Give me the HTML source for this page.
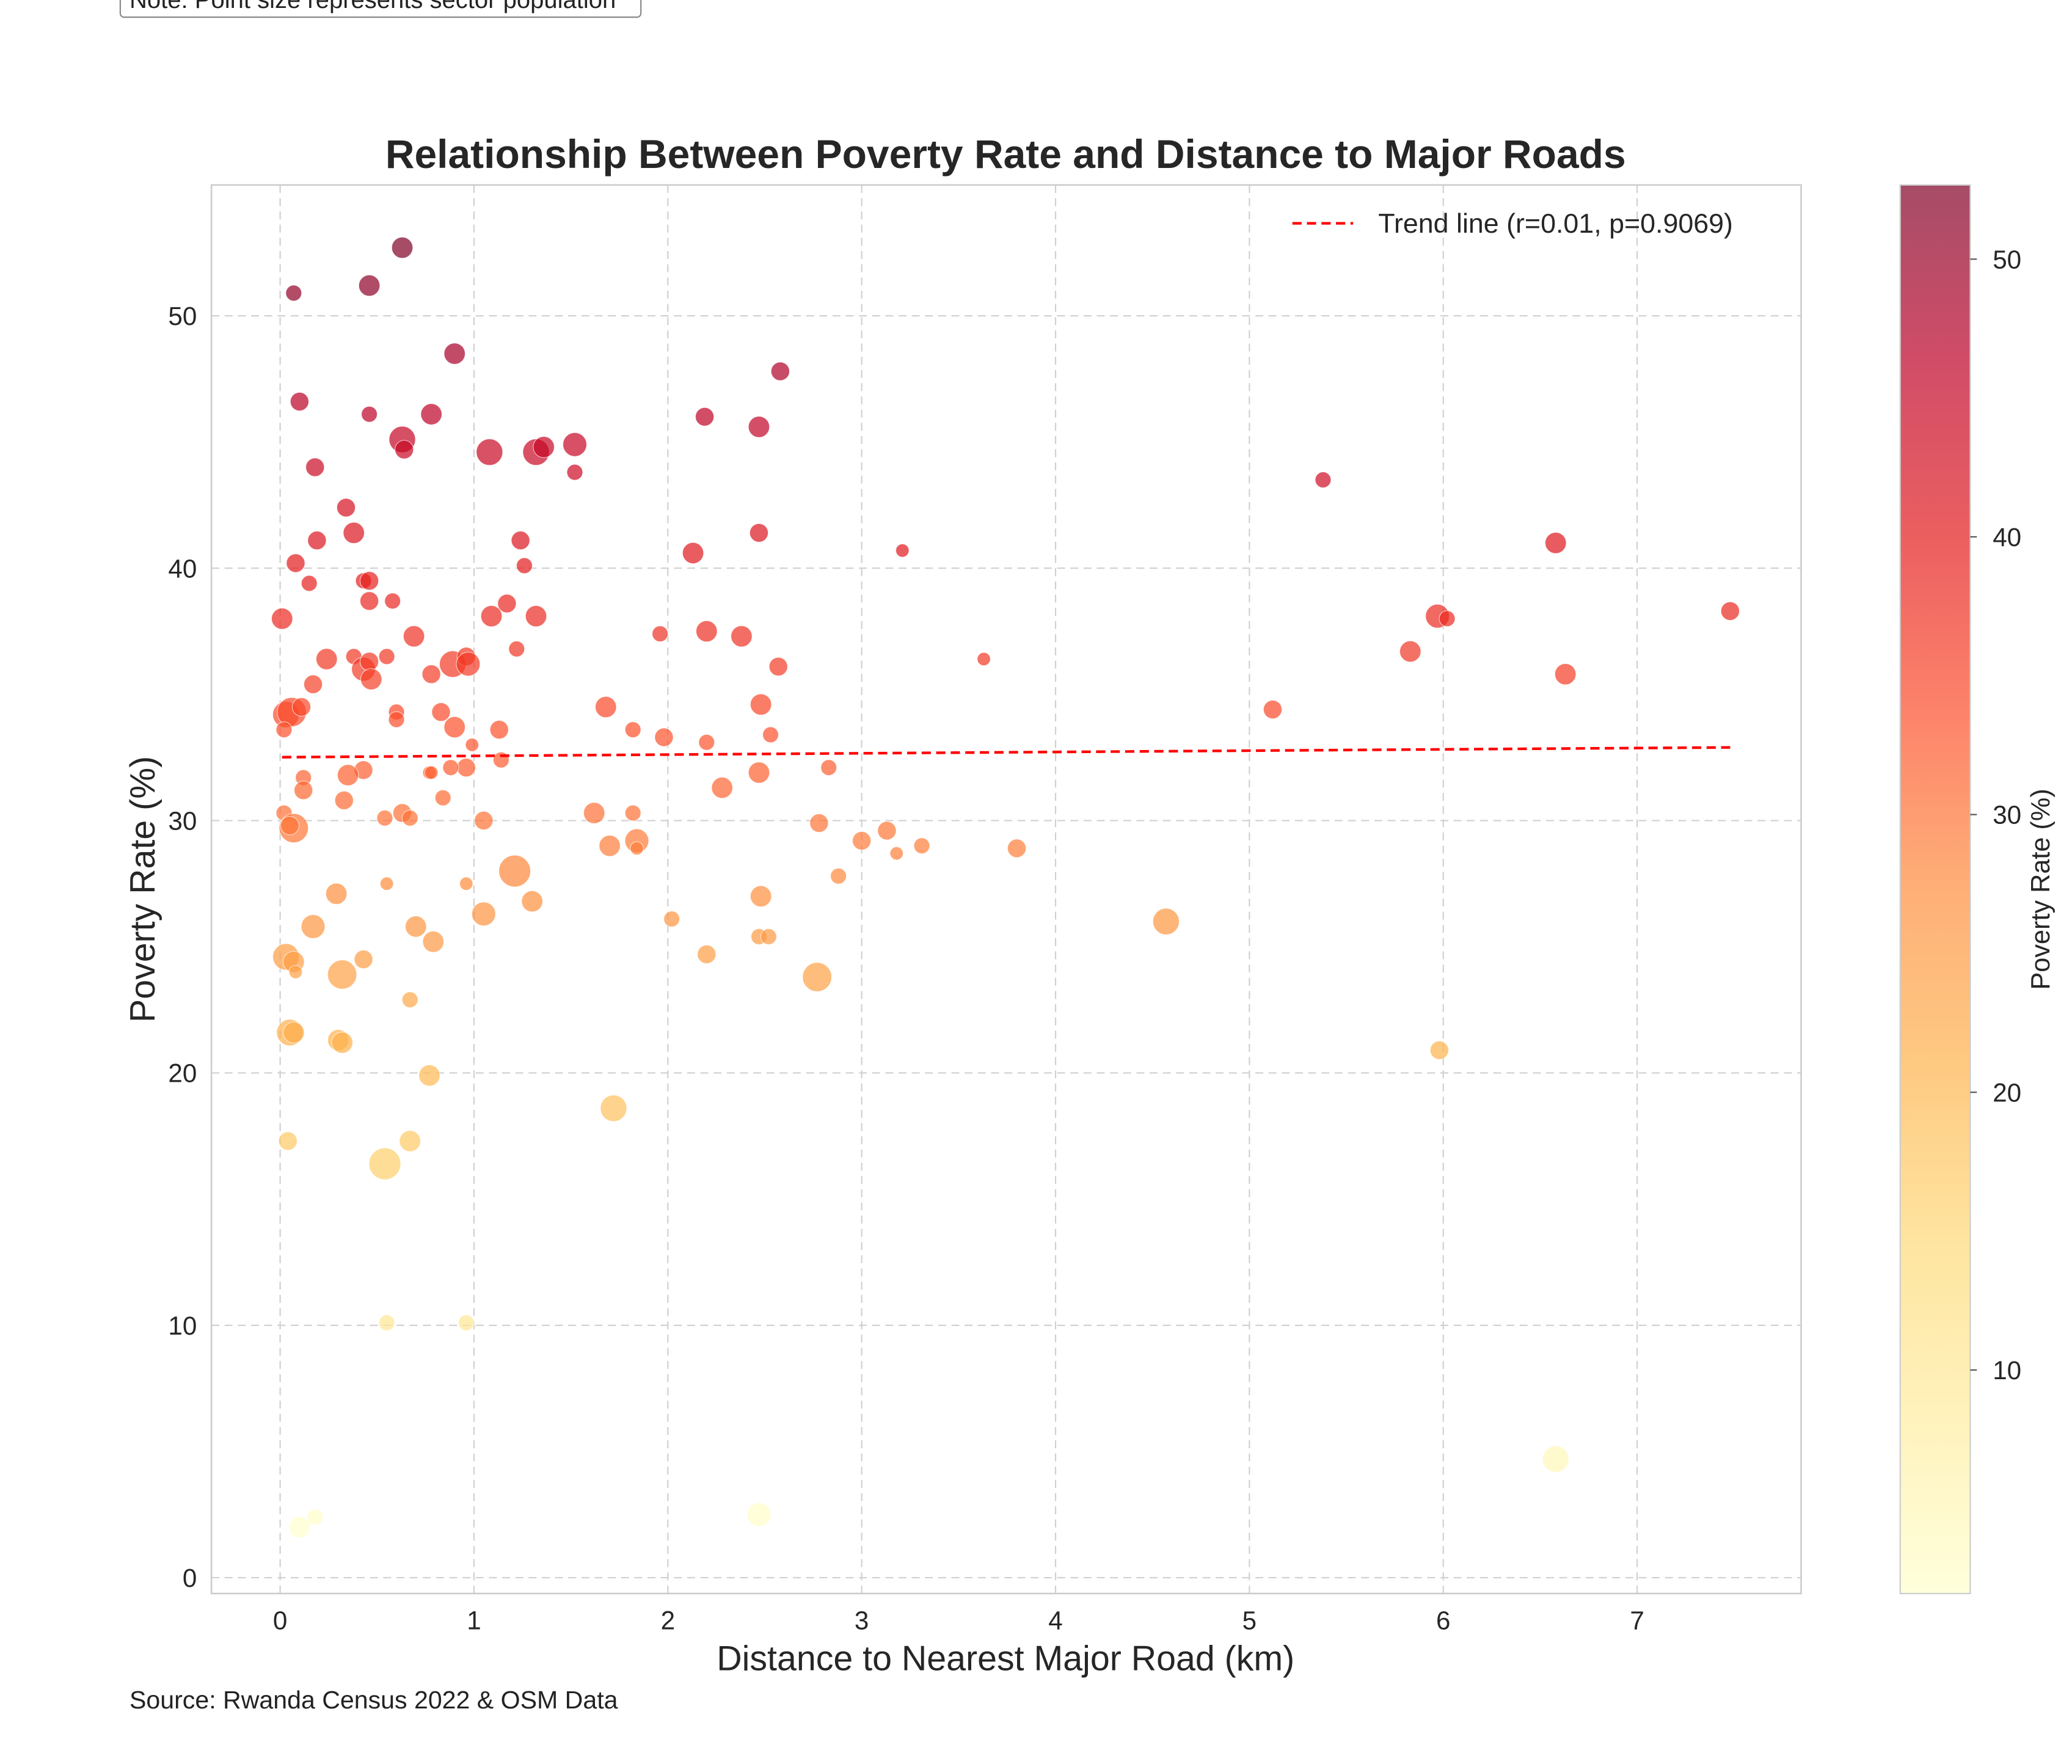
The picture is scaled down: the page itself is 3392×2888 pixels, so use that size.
<!DOCTYPE html>
<html><head><meta charset="utf-8"><style>
html,body{margin:0;padding:0;background:#fff;}
svg{display:block;font-family:"Liberation Sans",sans-serif;}
</style></head><body>
<svg id="chart" width="3392" height="2888" viewBox="0 0 1568 1335" xmlns="http://www.w3.org/2000/svg">
<defs>
<linearGradient id="cbgrad" x1="0" y1="1" x2="0" y2="0">
<stop offset="0" stop-color="#ffffcc"/><stop offset="0.125" stop-color="#ffeda0"/><stop offset="0.25" stop-color="#fed976"/><stop offset="0.375" stop-color="#feb24c"/><stop offset="0.5" stop-color="#fd8d3c"/><stop offset="0.625" stop-color="#fc4e2a"/><stop offset="0.75" stop-color="#e31a1c"/><stop offset="0.875" stop-color="#bd0026"/><stop offset="1" stop-color="#800026"/>
</linearGradient>
</defs>
<g>
<rect x="91" y="-12" width="394" height="25" rx="3" fill="#fff" stroke="#888" stroke-width="1"/>
<text x="98" y="6" font-size="18.5" fill="#222">Note: Point size represents sector population</text>
</g>
<text x="761" y="127" font-size="30.5" font-weight="bold" text-anchor="middle" fill="#262626">Relationship Between Poverty Rate and Distance to Major Roads</text>
<g id="grid"></g>
<g id="points"></g>
<g id="trend"></g>
<rect x="160" y="140" width="1203" height="1066" fill="none" stroke="#ccc" stroke-width="1.2"/>
<g id="xticks"></g>
<g id="yticks"></g>
<text x="761" y="1264" font-size="26.5" text-anchor="middle" fill="#262626">Distance to Nearest Major Road (km)</text>
<text transform="translate(117,673) rotate(-90)" font-size="26.5" text-anchor="middle" fill="#262626">Poverty Rate (%)</text>
<g>
<line x1="978" y1="169" x2="1024" y2="169" stroke="#ff0000" stroke-width="2" stroke-dasharray="7,4"/>
<text x="1043" y="176" font-size="20.7" fill="#262626">Trend line (r=0.01, p=0.9069)</text>
</g>
<g id="colorbar">
<rect x="1438" y="140" width="53" height="1066" fill="url(#cbgrad)" opacity="0.7"/>
<rect x="1438" y="140" width="53" height="1066" fill="none" stroke="#ccc" stroke-width="1"/>
</g>
<text transform="translate(1551,673) rotate(-90)" font-size="20" text-anchor="middle" fill="#262626">Poverty Rate (%)</text>
<text x="98" y="1293" font-size="19" fill="#222">Source: Rwanda Census 2022 &amp; OSM Data</text>
</svg>
<script>
const distances=[0.07,0.46,0.63,0.1,0.46,0.9,0.63,0.64,0.78,1.08,1.32,1.36,1.52,1.52,0.18,2.19,2.47,2.58,0.34,0.38,0.19,0.08,0.15,0.43,0.46,0.46,0.58,1.24,1.26,2.13,2.47,3.21,5.38,6.58,0.01,0.24,0.38,0.43,0.46,0.47,0.55,0.69,0.78,0.89,0.96,0.97,1.09,1.17,1.22,1.32,1.96,2.2,2.38,2.57,3.63,5.83,5.97,6.02,6.63,7.48,0.17,0.03,0.06,0.11,0.02,0.6,0.6,0.83,0.9,1.13,1.14,0.99,0.96,0.88,0.77,0.78,0.84,0.43,0.35,0.12,0.12,0.33,0.02,0.07,0.05,0.54,0.63,0.67,1.05,1.68,1.82,1.98,2.2,2.48,2.53,2.47,2.28,2.83,5.12,1.62,1.82,1.7,1.84,1.84,2.78,3.0,3.13,3.18,3.31,3.8,0.55,0.96,1.21,1.3,1.05,0.29,0.7,0.17,0.79,0.43,0.03,0.07,0.08,0.32,0.67,2.02,2.48,2.88,2.47,2.52,2.2,2.77,4.57,0.05,0.07,0.3,0.32,0.77,5.98,0.04,0.54,0.67,1.72,0.55,0.96,0.1,0.18,2.47,6.58];
const povertyRates=[50.9,51.2,52.7,46.6,46.1,48.5,45.1,44.7,46.1,44.6,44.6,44.8,44.9,43.8,44.0,46.0,45.6,47.8,42.4,41.4,41.1,40.2,39.4,39.5,39.5,38.7,38.7,41.1,40.1,40.6,41.4,40.7,43.5,41.0,38.0,36.4,36.5,36.0,36.3,35.6,36.5,37.3,35.8,36.2,36.5,36.2,38.1,38.6,36.8,38.1,37.4,37.5,37.3,36.1,36.4,36.7,38.1,38.0,35.8,38.3,35.4,34.2,34.3,34.5,33.6,34.3,34.0,34.3,33.7,33.6,32.4,33.0,32.1,32.1,31.9,31.9,30.9,32.0,31.8,31.7,31.2,30.8,30.3,29.7,29.8,30.1,30.3,30.1,30.0,34.5,33.6,33.3,33.1,34.6,33.4,31.9,31.3,32.1,34.4,30.3,30.3,29.0,29.2,28.9,29.9,29.2,29.6,28.7,29.0,28.9,27.5,27.5,28.0,26.8,26.3,27.1,25.8,25.8,25.2,24.5,24.6,24.4,24.0,23.9,22.9,26.1,27.0,27.8,25.4,25.4,24.7,23.8,26.0,21.6,21.6,21.3,21.2,19.9,20.9,17.3,16.4,17.3,18.6,10.1,10.1,2.0,2.4,2.5,4.7];
const populations=[6,8,8,7,6,8,10,7,8,10,10,8,9,6,7,7,8,7,7,8,7,7,6,6,7,7,6,7,6,8,7,5,6,8,8,8,6,9,7,8,6,8,7,10,7,9,8,7,6,8,6,8,8,7,5,8,9,6,8,7,7,10,11,7,6,6,6,7,8,7,6,5,7,6,5,5,6,7,8,6,7,7,6,11,7,6,7,6,7,8,6,7,6,8,6,8,8,6,7,8,6,8,9,5,7,7,7,5,6,7,5,5,12,8,9,8,8,9,8,7,10,8,5,11,6,6,8,6,6,6,7,11,10,10,8,8,8,8,7,7,12,8,10,6,6,8,6,9,10];
const xTicks=[0,1,2,3,4,5,6,7];
const yTicks=[0,10,20,30,40,50];
const cbTicks=[10,20,30,40,50];
const NS="http://www.w3.org/2000/svg";
const xs=v=>212+v*146.7;
const ys=v=>1194-v*19.1;
const cMin=1.95,cMax=52.67;
const cbs=v=>1206-(v-cMin)/(cMax-cMin)*1066;
const stops=["#ffffcc","#ffeda0","#fed976","#feb24c","#fd8d3c","#fc4e2a","#e31a1c","#bd0026","#800026"];
function hex(h){return [1,3,5].map(i=>parseInt(h.substr(i,2),16));}
function cmap(v){let t=Math.max(0,Math.min(1,(v-cMin)/(cMax-cMin)))*8;let i=Math.min(7,Math.floor(t));let f=t-i;let a=hex(stops[i]),b=hex(stops[i+1]);return "rgb("+a.map((c,k)=>Math.round(c+(b[k]-c)*f)).join(",")+")";}
function mk(tag,attrs,parent){const e=document.createElementNS(NS,tag);for(const k in attrs)e.setAttribute(k,attrs[k]);parent.appendChild(e);return e;}
const grid=document.getElementById('grid'),xt=document.getElementById('xticks'),yt=document.getElementById('yticks');
xTicks.forEach(t=>{
  const l=mk('line',{x1:xs(t),x2:xs(t),y1:140,y2:1206,stroke:'#d0d0d0','stroke-dasharray':'6,4','stroke-width':1},grid);
  
  
  const tx=mk('text',{x:xs(t),y:1233,'font-size':19.5,'text-anchor':'middle',fill:'#262626'},xt);
  tx.textContent=t;
  
  
});
yTicks.forEach(t=>{
  const l=mk('line',{x1:160,x2:1363,y1:ys(t),y2:ys(t),stroke:'#d0d0d0','stroke-dasharray':'6,4','stroke-width':1},grid);
  
  
  const tx=mk('text',{x:149,y:ys(t)+7,'font-size':19.5,'text-anchor':'end',fill:'#262626'},yt);
  tx.textContent=t;
  
  
});
const pts=document.getElementById('points');
distances.forEach((d,i)=>{
  const c=mk('circle',{cx:xs(d),cy:ys(povertyRates[i]),r:populations[i],fill:cmap(povertyRates[i]),'fill-opacity':0.7,stroke:'#fff','stroke-width':0.5,'stroke-opacity':0.7},pts);
  
  
});
const n=distances.length;const mx=distances.reduce((a,b)=>a+b,0)/n;const my=povertyRates.reduce((a,b)=>a+b,0)/n;
let sxy=0,sxx=0;distances.forEach((d,i)=>{sxy+=(d-mx)*(povertyRates[i]-my);sxx+=(d-mx)*(d-mx);});
const slope=sxy/sxx,inter=my-slope*mx;
const x0=Math.min(...distances),x1=Math.max(...distances);
const tl=mk('line',{x1:xs(x0),y1:ys(inter+slope*x0),x2:xs(x1),y2:ys(inter+slope*x1),stroke:'#ff0000','stroke-width':2,'stroke-dasharray':'7,4'},document.getElementById('trend'));


const cb=document.getElementById('colorbar');
cbTicks.forEach(t=>{
  mk('line',{x1:1491,x2:1496,y1:cbs(t),y2:cbs(t),stroke:'#555','stroke-width':1},cb);
  const tx=mk('text',{x:1508,y:cbs(t)+7,'font-size':19.5,fill:'#262626'},cb);
  tx.textContent=t;
  
  
});
</script>
</body></html>
